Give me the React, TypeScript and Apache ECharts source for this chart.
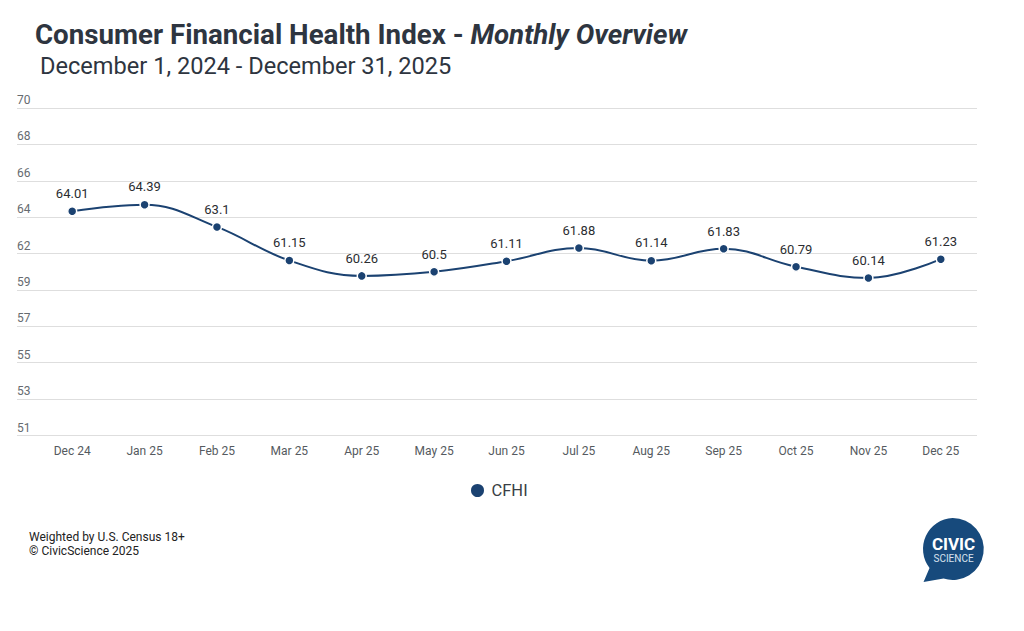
import React, { useEffect, useRef } from "react";
import * as echarts from "echarts";

const categories = ["Dec 24", "Jan 25", "Feb 25", "Mar 25", "Apr 25", "May 25", "Jun 25", "Jul 25", "Aug 25", "Sep 25", "Oct 25", "Nov 25", "Dec 25"];
const cfhiValues = [64.01, 64.39, 63.1, 61.15, 60.26, 60.5, 61.11, 61.88, 61.14, 61.83, 60.79, 60.14, 61.23];
const yTickLabels = ["51", "53", "55", "57", "59", "62", "64", "66", "68", "70"];
const yMin = 51;
const yMax = 70;

const FONT = "Roboto, 'Noto Sans', sans-serif";
const NAVY = "#1b4271";

let shapeRegistered = false;

export default function App() {
  const ref = useRef<HTMLDivElement>(null);
  useEffect(() => {
    if (!ref.current) return;
    if (!shapeRegistered) {
      echarts.graphic.registerShape(
        "csBubble",
        echarts.graphic.extendPath(
          "M 31 0 A 31 31 0 1 1 22 60.6 L 2 64 L 8 50 A 31 31 0 0 1 31 0 Z",
          {}
        ) as any
      );
      shapeRegistered = true;
    }
    const chart = echarts.init(ref.current, null, { renderer: "svg" });
    const top = 108;
    const height = 327.5;
    chart.setOption({
      animation: false,
      backgroundColor: "#ffffff",
      textStyle: { fontFamily: FONT },
      grid: [
        { left: 17, right: 47, top, height, containLabel: false },
        { left: 36, right: 47, top, height, containLabel: false },
      ],
      xAxis: [
        { type: "value", gridIndex: 0, show: false, min: 0, max: 1 },
        {
          type: "category",
          gridIndex: 1,
          data: categories,
          boundaryGap: true,
          axisLine: { show: false },
          axisTick: { show: false },
          axisLabel: { color: "#555a60", fontSize: 12, margin: 9, fontFamily: FONT },
        },
      ],
      yAxis: [
        {
          type: "category",
          gridIndex: 0,
          data: yTickLabels,
          boundaryGap: false,
          axisLine: { show: false },
          axisTick: { show: false },
          axisLabel: {
            inside: true,
            margin: 0,
            verticalAlign: "bottom",
            padding: [0, 0, 2, 0],
            color: "#666b70",
            fontSize: 12,
            fontFamily: FONT,
          },
          splitLine: { show: true, lineStyle: { color: "#dedede", width: 1 } },
        },
        {
          type: "value",
          gridIndex: 1,
          min: yMin,
          max: yMax,
          show: false,
          splitLine: { show: false },
        },
      ],
      legend: {
        data: ["CFHI"],
        top: 477,
        left: 464,
        icon: "circle",
        itemWidth: 18,
        itemHeight: 15,
        textStyle: { color: "#3a3f45", fontSize: 16.5, fontFamily: FONT },
      },
      series: [
        {
          name: "CFHI",
          type: "line",
          xAxisIndex: 1,
          yAxisIndex: 1,
          data: cfhiValues,
          smooth: 0.4,
          symbol: "circle",
          symbolSize: 9,
          itemStyle: { color: NAVY, borderColor: "#ffffff", borderWidth: 1.5 },
          lineStyle: { color: NAVY, width: 2 },
          label: {
            show: true,
            position: "top",
            distance: 6,
            color: "#2a2d31",
            fontSize: 13,
            fontFamily: FONT,
          },
        },
      ],
      graphic: [
        {
          type: "text",
          left: 35,
          top: 20,
          style: {
            text: "{b|Consumer Financial Health Index - }{i|Monthly Overview}",
            rich: {
              b: { fontSize: 27.7, fontWeight: "bold", fill: "#2e3540", fontFamily: FONT },
              i: { fontSize: 27.7, fontWeight: "bold", fontStyle: "italic", fill: "#2e3540", fontFamily: FONT },
            },
          },
        },
        {
          type: "text",
          left: 40,
          top: 54,
          style: {
            text: "December 1, 2024 - December 31, 2025",
            fontSize: 23.6,
            fill: "#2e3540",
            fontFamily: FONT,
          },
        },
        {
          type: "text",
          left: 29,
          top: 530,
          style: {
            text: "Weighted by U.S. Census 18+\n© CivicScience 2025",
            fontSize: 12,
            lineHeight: 14,
            fill: "#222222",
            fontFamily: FONT,
          },
        },
        {
          type: "group",
          left: 923,
          top: 518,
          children: [
            {
              type: "csBubble",
              x: 0,
              y: 0,
              style: { fill: "#174a7c" },
            },
            {
              type: "text",
              x: 32,
              y: 26,
              style: {
                text: "CIVIC",
                fontSize: 17,
                fontWeight: "bold",
                fill: "#ffffff",
                align: "center",
                verticalAlign: "middle",
                fontFamily: FONT,
              },
            },
            {
              type: "text",
              x: 32,
              y: 40,
              style: {
                text: "SCIENCE",
                fontSize: 10,
                fill: "#d8e2ee",
                align: "center",
                verticalAlign: "middle",
                fontFamily: FONT,
              },
            },
          ],
        },
      ],
    });
    return () => chart.dispose();
  }, []);
  return <div ref={ref} style={{ width: 1024, height: 631, position: "absolute", left: 0, top: 0 }} />;
}
